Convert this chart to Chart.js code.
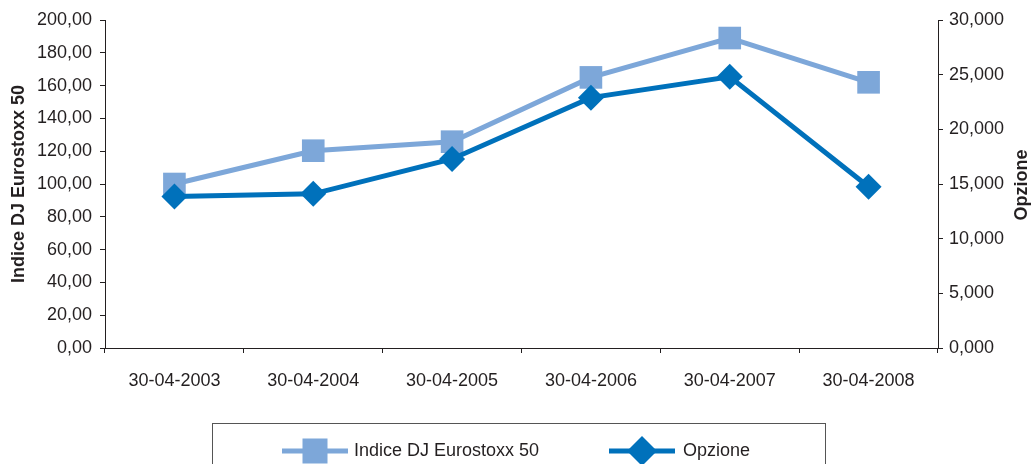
<!DOCTYPE html>
<html>
<head>
<meta charset="utf-8">
<script src="https://cdn.jsdelivr.net/npm/chart.js@4"></script>
<style>
  body { margin: 0; background: #fff; }
  #wrap { width: 1034px; height: 464px; position: relative; }
</style>
</head>
<body>
<div id="wrap"><canvas id="chart"></canvas></div>
<script>
const labels = ['30-04-2003', '30-04-2004', '30-04-2005', '30-04-2006', '30-04-2007', '30-04-2008'];
const indice = [100.0, 120.3, 125.8, 165.0, 189.0, 162.0];
const opzione = [13.86, 14.1, 17.29, 22.9, 24.8, 14.75];

const FONT = 'Liberation Sans, Arial, sans-serif';
const INK = '#231f20';
const LIGHT = '#7da7d9';
const DARK = '#0071bb';

// legend box + right title drawn by hand (title reads bottom-to-top like the left one)
const extras = {
    id: 'extras',
    afterDraw(chart) {
        const ctx = chart.ctx;
        ctx.save();
        // right axis title
        ctx.translate(1022, 185);
        ctx.rotate(-Math.PI / 2);
        ctx.font = 'bold 18px ' + FONT;
        ctx.fillStyle = INK;
        ctx.textAlign = 'center';
        ctx.textBaseline = 'middle';
        ctx.fillText('Opzione', 0, 0);
        ctx.restore();

        ctx.save();
        ctx.strokeStyle = '#555';
        ctx.lineWidth = 1;
        ctx.strokeRect(212.5, 423.5, 613, 60);

        const y = 451;
        // Indice item
        ctx.strokeStyle = LIGHT;
        ctx.lineWidth = 5;
        ctx.beginPath(); ctx.moveTo(282, y); ctx.lineTo(348, y); ctx.stroke();
        ctx.fillStyle = LIGHT;
        ctx.fillRect(315 - 12.5, y - 12.5, 25, 25);
        // Opzione item
        ctx.strokeStyle = DARK;
        ctx.beginPath(); ctx.moveTo(609, y); ctx.lineTo(675, y); ctx.stroke();
        ctx.fillStyle = DARK;
        ctx.beginPath();
        ctx.moveTo(642, y - 15); ctx.lineTo(657, y); ctx.lineTo(642, y + 15); ctx.lineTo(627, y);
        ctx.closePath(); ctx.fill();

        ctx.font = '18px ' + FONT;
        ctx.fillStyle = INK;
        ctx.textBaseline = 'middle';
        ctx.fillText('Indice DJ Eurostoxx 50', 354, y);
        ctx.fillText('Opzione', 683, y);
        ctx.restore();
    }
};

const ctx = document.getElementById('chart').getContext('2d');
new Chart(ctx, {
    type: 'line',
    data: {
        labels: labels,
        datasets: [
            {
                label: 'Indice DJ Eurostoxx 50',
                data: indice,
                yAxisID: 'y',
                borderColor: LIGHT,
                backgroundColor: LIGHT,
                borderWidth: 5,
                pointStyle: 'rect',
                pointRadius: 16,
                pointHoverRadius: 16,
                pointBorderWidth: 0,
                order: 1
            },
            {
                label: 'Opzione',
                data: opzione,
                yAxisID: 'y1',
                borderColor: DARK,
                backgroundColor: DARK,
                borderWidth: 5,
                pointStyle: 'rectRot',
                pointRadius: 13,
                pointHoverRadius: 13,
                pointBorderWidth: 0,
                order: 0
            }
        ]
    },
    options: {
        responsive: true,
        maintainAspectRatio: false,
        animation: false,
        layout: { padding: { top: 20, left: 0, right: 0, bottom: 0 } },
        plugins: {
            legend: { display: false },
            tooltip: { enabled: false }
        },
        scales: {
            x: {
                offset: true,
                grid: { offset: true, drawOnChartArea: false, color: INK, tickLength: 5, tickColor: INK },
                border: { color: INK, width: 1 },
                ticks: { color: INK, font: { family: FONT, size: 18 }, padding: 17, maxRotation: 0 },
                afterFit: s => { s.height = 116; }
            },
            y: {
                position: 'left',
                min: 0,
                max: 200,
                grid: { drawOnChartArea: false, tickLength: 5, tickColor: INK },
                border: { color: INK, width: 1 },
                ticks: {
                    stepSize: 20,
                    color: INK,
                    padding: 8,
                    font: { family: FONT, size: 18 },
                    callback: v => v.toFixed(2).replace('.', ',')
                },
                title: {
                    display: true,
                    text: 'Indice DJ Eurostoxx 50',
                    color: INK,
                    font: { family: FONT, size: 18, weight: 'bold' },
                    padding: { top: 8, bottom: 0 }
                },
                afterFit: s => { s.width = 105; }
            },
            y1: {
                position: 'right',
                min: 0,
                max: 30,
                grid: { drawOnChartArea: false, tickLength: 5, tickColor: INK },
                border: { color: INK, width: 1 },
                ticks: {
                    stepSize: 5,
                    color: INK,
                    padding: 6,
                    font: { family: FONT, size: 18 },
                    callback: v => v.toFixed(3).replace('.', ',')
                },
                afterFit: s => { s.width = 96; }
            }
        }
    },
    plugins: [extras]
});
</script>
</body>
</html>
